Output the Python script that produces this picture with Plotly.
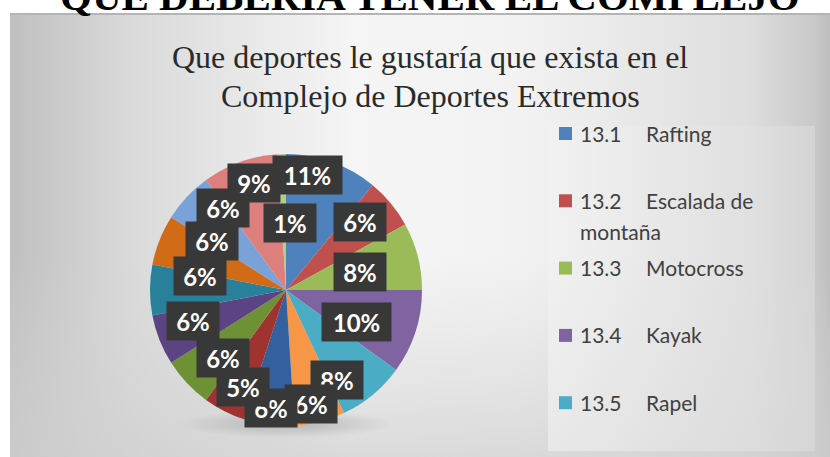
'''
    Pie chart: which sports people would like in the extreme sports complex.
    Rebuilt from a spreadsheet screenshot (Excel style labels and legend).
'''

import base64
import math

import plotly.graph_objects as go

# ---- data -----------------------------------------------------------------
codes = ['13.1', '13.2', '13.3', '13.4', '13.5', '13.6', '13.7', '13.8',
         '13.9', '13.10', '13.11', '13.12', '13.13', '13.14', '13.15']
sports = ['Rafting', 'Escalada de montaña', 'Motocross', 'Kayak', 'Rapel',
          'Otro 6', 'Otro 7', 'Otro 8', 'Otro 9', 'Otro 10', 'Otro 11',
          'Otro 12', 'Otro 13', 'Otro 14', 'Otro 15']
percents = [11, 6, 8, 10, 8, 6, 6, 5, 6, 6, 6, 6, 6, 9, 1]

# only the first five entries are visible in the (clipped) legend
legend_count = 5

colors = ['#4F81BD', '#C0504D', '#9BBB59', '#8064A2', '#4BACC6', '#F79646',
          '#33609f', '#9e3330', '#6e9136', '#5c4482', '#29809a', '#d26b18',
          '#7aa2d8', '#dc7f7d', '#b3cf86']

W, H = 830, 457
CX, CY, R = 286, 290, 136  # pie centre / radius in pixels

# label placement the way the spreadsheet resolved it:
# (fraction of radius, angle shift in degrees from the slice middle)
label_place = [(0.86, -9), (0.74, -3), (0.56, 1), (0.57, 6), (0.76, 10),
               (0.86, 2), (0.875, 0), (0.78, -3), (0.68, -4), (0.72, 3),
               (0.64, 9), (0.65, 12), (0.76, 9), (0.82, 3), (0.49, 5)]


def px(x):
    return x / W


def py(y):
    return 1 - y / H


def background():
    '''Slide-like grey gradient panel drawn as an inline svg image.'''
    svg = f'''<svg xmlns="http://www.w3.org/2000/svg" width="{W}" height="{H}">
<defs>
<linearGradient id="h" x1="0" y1="0" x2="1" y2="0">
<stop offset="0" stop-color="#c0c0c0"/>
<stop offset="0.15" stop-color="#dadada"/>
<stop offset="0.42" stop-color="#f5f5f5"/>
<stop offset="0.62" stop-color="#f2f2f2"/>
<stop offset="0.9" stop-color="#dedede"/>
<stop offset="0.98" stop-color="#c9c9c9"/>
<stop offset="1" stop-color="#bdbdbd"/>
</linearGradient>
<linearGradient id="v" x1="0" y1="0" x2="0" y2="1">
<stop offset="0" stop-color="#d6d6d6" stop-opacity="0"/>
<stop offset="0.55" stop-color="#d6d6d6" stop-opacity="0"/>
<stop offset="1" stop-color="#cfcfcf" stop-opacity="0.7"/>
</linearGradient>
<linearGradient id="lg" x1="0" y1="0" x2="1" y2="0">
<stop offset="0" stop-color="#f2f2f2"/>
<stop offset="1" stop-color="#dcdcdc"/>
</linearGradient>
<radialGradient id="sh">
<stop offset="0" stop-color="#9a9a9a" stop-opacity="0.6"/>
<stop offset="1" stop-color="#9a9a9a" stop-opacity="0"/>
</radialGradient>
</defs>
<rect x="10" y="13" width="{W - 10}" height="{H - 13}" fill="url(#h)"/>
<rect x="10" y="13" width="{W - 10}" height="{H - 13}" fill="url(#v)"/>
<rect x="10" y="13" width="{W - 10}" height="2" fill="#b4b4b4"/>
<rect x="548" y="126" width="267" height="325" fill="url(#lg)" opacity="0.6"/>
<ellipse cx="{CX}" cy="{CY + R - 2}" rx="{R * 0.8}" ry="14" fill="url(#sh)"/>
</svg>'''
    return 'data:image/svg+xml;base64,' + base64.b64encode(svg.encode()).decode()


def wrap(name, width=11):
    words, lines, cur = name.split(), [], ''
    for w in words:
        if cur and len(cur) + 1 + len(w) > width:
            lines.append(cur)
            cur = w
        else:
            cur = (cur + ' ' + w).strip()
    lines.append(cur)
    return lines


fig = go.Figure(go.Pie(
    labels=[c + ' ' + s for c, s in zip(codes, sports)],
    values=percents,
    sort=False,
    direction='clockwise',
    rotation=0,
    marker=dict(colors=colors, line=dict(width=0)),
    textinfo='none',
    hoverinfo='label+percent',
    showlegend=False,
    domain=dict(x=[px(CX - R), px(CX + R)], y=[py(CY + R), py(CY - R)]),
))

annotations = []

# cropped slide heading above the chart
annotations.append(dict(
    text='<b>QUE DEBERÍA TENER EL COMPLEJO</b>', x=px(430), y=py(-4),
    xanchor='center', yanchor='middle', showarrow=False,
    font=dict(family='Liberation Serif', size=41, color='#000000')))

# chart title
for i, line in enumerate(['Que deportes le gustaría que exista en el',
                          'Complejo de Deportes Extremos']):
    annotations.append(dict(
        text=line, x=px(430), y=py(57 + 39 * i), xanchor='center',
        yanchor='middle', showarrow=False,
        font=dict(family='Liberation Serif', size=32, color='#2a2a2a')))

# data labels in dark boxes, placed along each slice
total = sum(percents)
start = 0.0
for i, v in enumerate(percents):
    sweep = 360.0 * v / total
    frac, shift = label_place[i]
    a = math.radians(start + sweep / 2 + shift)
    x = CX + frac * R * math.sin(a)
    y = CY - frac * R * math.cos(a)
    start += sweep
    txt = f'{round(100 * v / total)}%'
    annotations.append(dict(
        text=f'<b>{txt}</b>', x=px(x), y=py(y), xanchor='center',
        yanchor='middle', showarrow=False, bgcolor='#383838',
        width=22 + 13 * len(txt) if len(txt) > 2 else 44, height=30,
        borderpad=4, font=dict(family='Lato', size=24, color='#ffffff')))

# legend (first five categories only, as in the clipped original)
shapes = []
row_y = 133
for i in range(legend_count):
    lines = wrap(sports[i])
    shapes.append(dict(
        type='rect', xref='paper', yref='paper',
        x0=px(559), x1=px(572), y0=py(row_y - 6), y1=py(row_y + 7),
        fillcolor=colors[i], line=dict(width=0)))
    annotations.append(dict(
        text=codes[i], x=px(578), y=py(row_y), xanchor='left',
        yanchor='middle', showarrow=False,
        font=dict(family='Lato', size=21, color='#404040')))
    annotations.append(dict(
        text=lines[0], x=px(644), y=py(row_y), xanchor='left',
        yanchor='middle', showarrow=False,
        font=dict(family='Lato', size=21, color='#404040')))
    for k, extra in enumerate(lines[1:], start=1):
        annotations.append(dict(
            text=extra, x=px(578), y=py(row_y + 31 * k), xanchor='left',
            yanchor='middle', showarrow=False,
            font=dict(family='Lato', size=21, color='#404040')))
    row_y += 67.3

fig.update_layout(
    width=W, height=H,
    margin=dict(l=0, r=0, t=0, b=0),
    paper_bgcolor='#ffffff',
    plot_bgcolor='rgba(0,0,0,0)',
    images=[dict(source=background(), xref='paper', yref='paper', x=0, y=1,
                 sizex=1, sizey=1, sizing='stretch', xanchor='left',
                 yanchor='top', layer='below')],
    annotations=annotations,
    shapes=shapes,
)

# drop the browser's default body margin so the figure sits at the page corner
fig.write_html('out.html', config={'displayModeBar': False},
               post_script="document.body.style.margin = '0';")
